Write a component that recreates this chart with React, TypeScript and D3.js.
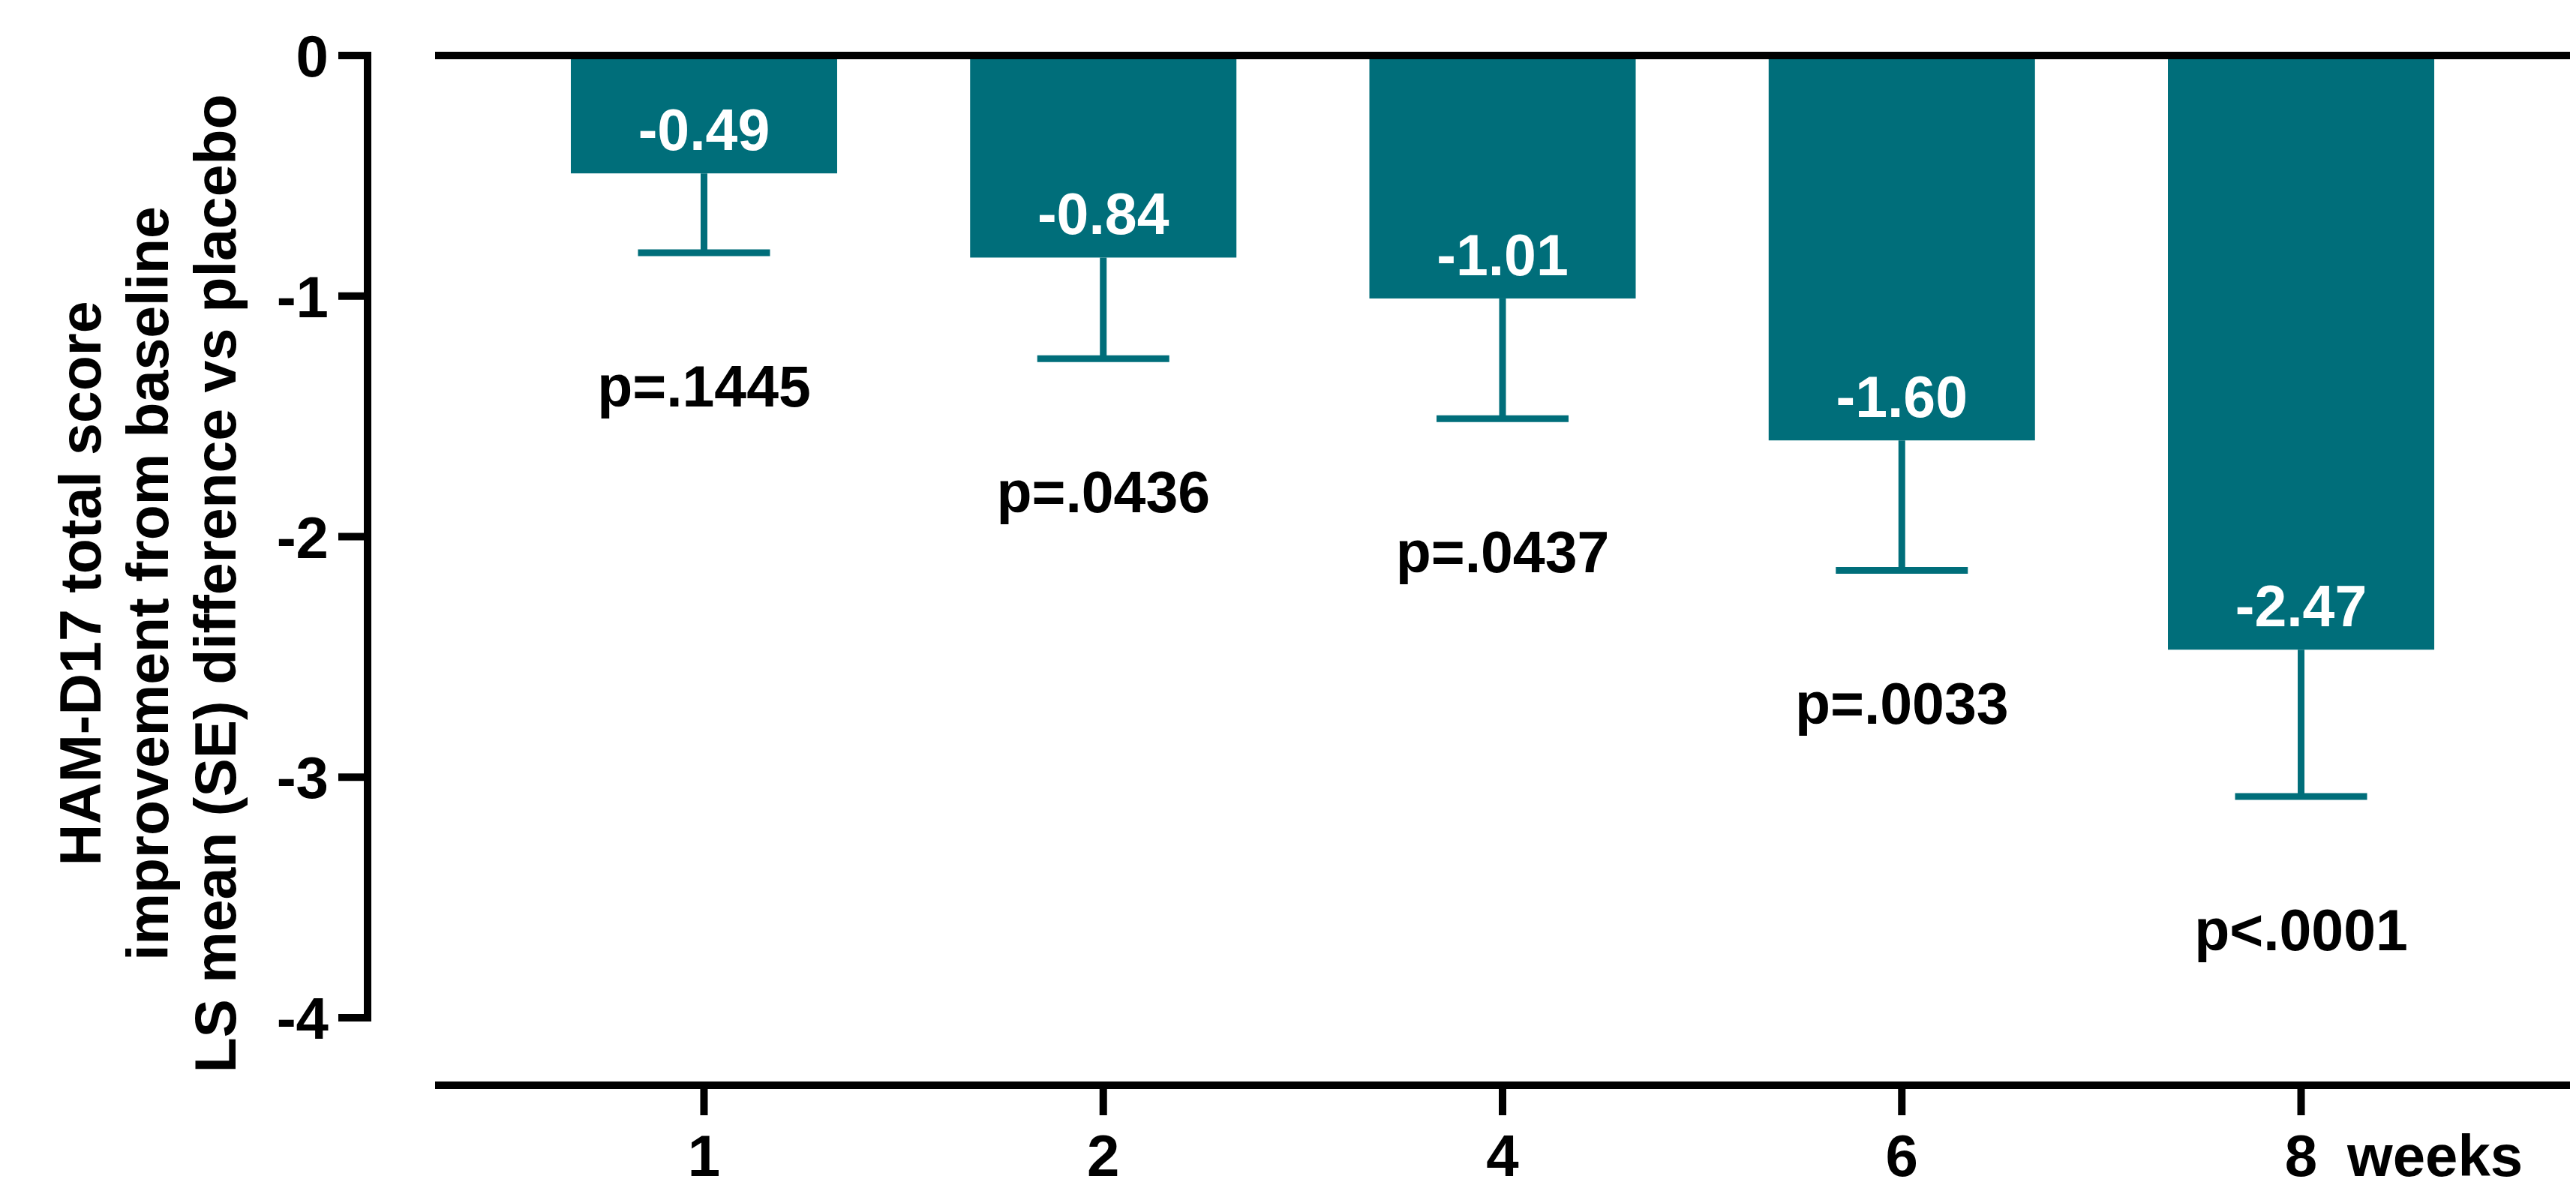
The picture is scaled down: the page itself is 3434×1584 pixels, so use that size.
import React from "react";
import * as d3 from "d3";

const weeks = ["1", "2", "4", "6", "8"];
const lsMeans = [-0.49, -0.84, -1.01, -1.6, -2.47];
const standardErrors = [0.33, 0.42, 0.5, 0.54, 0.61];
const pValues = ["p=.1445", "p=.0436", "p=.0437", "p=.0033", "p<.0001"];
const yTicks = [0, -1, -2, -3, -4];
const yTitleLines = [
  "HAM-D17 total score",
  "improvement from baseline",
  "LS mean (SE) difference vs placebo",
];
const xUnit = "weeks";

const W = 3434;
const H = 1584;
const TEAL = "#006e7a";
const FONT = "'Liberation Sans', Arial, Helvetica, sans-serif";

export default function App() {
  const x = d3
    .scaleBand<string>()
    .domain(weeks)
    .range([580, 3426])
    .paddingInner(0.333)
    .paddingOuter(0.34);
  const y = d3.scaleLinear().domain([0, -4]).range([74, 1357]);
  const bw = x.bandwidth();
  const capHalf = 88;
  const axisX = 490;
  const xAxisY = 1447;

  return (
    <svg
      width={W}
      height={H}
      style={{ position: "absolute", left: 0, top: 0, background: "#fff" }}
      fontFamily={FONT}
      fontWeight="bold"
    >
      <rect x={0} y={0} width={W} height={H} fill="#fff" />
      {/* bars */}
      {weeks.map((w, i) => {
        const x0 = x(w)!;
        const cx = x0 + bw / 2;
        const v = lsMeans[i];
        const lo = v - standardErrors[i];
        return (
          <g key={w}>
            <rect x={x0} y={y(0)} width={bw} height={y(v) - y(0)} fill={TEAL} />
            <line x1={cx} x2={cx} y1={y(v)} y2={y(lo)} stroke={TEAL} strokeWidth={9} />
            <line
              x1={cx - capHalf}
              x2={cx + capHalf}
              y1={y(lo)}
              y2={y(lo)}
              stroke={TEAL}
              strokeWidth={9}
            />
            <text
              x={cx}
              y={y(v) - 31}
              textAnchor="middle"
              fill="#fff"
              fontSize={77}
            >
              {v.toFixed(2)}
            </text>
            <text x={cx} y={y(lo) + 205} textAnchor="middle" fill="#000" fontSize={77}>
              {pValues[i]}
            </text>
          </g>
        );
      })}
      {/* zero line */}
      <line x1={580} x2={3426} y1={y(0)} y2={y(0)} stroke="#000" strokeWidth={10} />
      {/* y axis */}
      <line x1={axisX} x2={axisX} y1={y(0) - 5} y2={y(-4) + 5} stroke="#000" strokeWidth={10} />
      {yTicks.map((t) => (
        <g key={t}>
          <line x1={451} x2={axisX} y1={y(t)} y2={y(t)} stroke="#000" strokeWidth={10} />
          <text x={438} y={y(t) + 28} textAnchor="end" fontSize={78} fill="#000">
            {t === 0 ? "0" : String(t)}
          </text>
        </g>
      ))}
      {/* x axis */}
      <line x1={580} x2={3426} y1={xAxisY} y2={xAxisY} stroke="#000" strokeWidth={10} />
      {weeks.map((w) => {
        const cx = x(w)! + bw / 2;
        return (
          <g key={"t" + w}>
            <line x1={cx} x2={cx} y1={xAxisY} y2={xAxisY + 40} stroke="#000" strokeWidth={10} />
            <text x={cx} y={1568} textAnchor="middle" fontSize={78} fill="#000">
              {w}
            </text>
          </g>
        );
      })}
      <text x={3129} y={1568} textAnchor="start" fontSize={78} fill="#000">
        {xUnit}
      </text>
      {/* y title */}
      {yTitleLines.map((line, i) => (
        <text
          key={i}
          transform={`translate(${134 + i * 90},778) rotate(-90)`}
          textAnchor="middle"
          fontSize={77}
          fill="#000"
        >
          {line}
        </text>
      ))}
    </svg>
  );
}
